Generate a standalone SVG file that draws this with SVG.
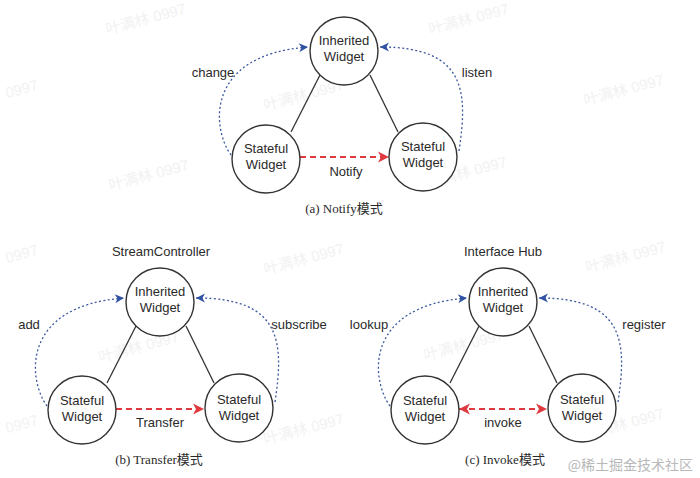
<svg xmlns="http://www.w3.org/2000/svg" width="700" height="478" viewBox="0 0 700 478">
<defs>
<style>
.node{fill:#fff;stroke:#333;stroke-width:1.4}
.edge{stroke:#333;stroke-width:1.3;fill:none}
.blue{stroke:#3a56a0;stroke-width:1.3;fill:none;stroke-dasharray:2 2.4}
.red{stroke:#de3a3f;stroke-width:2.2;fill:none;stroke-dasharray:6 4}
.t{font-family:"Liberation Sans",Arial,sans-serif;font-size:13px;fill:#2a2a2a;text-anchor:middle}
.cap{font-family:"Liberation Serif","Noto Sans CJK SC",serif;font-size:13px;fill:#2a2a2a;text-anchor:middle}
.wm{font-family:"Liberation Sans","Noto Sans CJK SC",sans-serif;font-size:15px;fill:#f2f2f2;text-anchor:middle}
</style>
<marker id="ab" markerUnits="userSpaceOnUse" markerWidth="10" markerHeight="9" refX="9" refY="4.5" orient="auto" overflow="visible">
<path d="M0,0 L9,4.5 L0,9 L2.6,4.5 z" fill="#2f52a3"/>
</marker>
<marker id="ar" markerUnits="userSpaceOnUse" markerWidth="12" markerHeight="11" refX="11" refY="5.5" orient="auto-start-reverse" overflow="visible">
<path d="M0,0 L11,5.5 L0,11 L3,5.5 z" fill="#de3a3f"/>
</marker>
</defs>
<rect width="700" height="478" fill="#fff"/>

<g id="watermarks">
<text class="wm" transform="translate(147,24) rotate(-15)">叶满林 0997</text>
<text class="wm" transform="translate(470,24) rotate(-15)">叶满林 0997</text>
<text class="wm" transform="translate(23,94) rotate(-15)">0997</text>
<text class="wm" transform="translate(305,100) rotate(-15)">叶满林 0997</text>
<text class="wm" transform="translate(625,95) rotate(-15)">叶满林 0997</text>
<text class="wm" transform="translate(150,180) rotate(-15)">叶满林 0997</text>
<text class="wm" transform="translate(468,177) rotate(-15)">叶满林 0997</text>
<text class="wm" transform="translate(23,259) rotate(-15)">0997</text>
<text class="wm" transform="translate(305,264) rotate(-15)">叶满林 0997</text>
<text class="wm" transform="translate(627,262) rotate(-15)">叶满林 0997</text>
<text class="wm" transform="translate(140,352) rotate(-15)">叶满林 0997</text>
<text class="wm" transform="translate(465,350) rotate(-15)">叶满林 0997</text>
<text class="wm" transform="translate(23,429) rotate(-15)">0997</text>
<text class="wm" transform="translate(305,434) rotate(-15)">叶满林 0997</text>
<text class="wm" transform="translate(625,429) rotate(-15)">叶满林 0997</text>
</g>

<!-- (a) Notify -->
<g id="diagram-a" transform="translate(344,51)">
<g id="a-connectors">
<line class="edge" x1="-53" y1="81" x2="-24" y2="24"/>
<line class="edge" x1="26" y1="24" x2="54" y2="81"/>
<path class="blue" d="M-113,104 C-132,78 -140,4 -36,-4" marker-end="url(#ab)"/>
<path class="blue" d="M115,100 C124,40 122,-4 36,-4" marker-end="url(#ab)"/>
<line class="red" x1="-44" y1="106" x2="45" y2="106" marker-end="url(#ar)"/>
<text class="t" x="-131" y="26">change</text>
<text class="t" x="133" y="26">listen</text>
<text class="t" x="2" y="125">Notify</text>
</g>
<g id="a-inherited"><circle class="node" cx="0" cy="0" r="34"/><text class="t" x="0" y="-6">Inherited</text><text class="t" x="0" y="10">Widget</text></g>
<g id="a-stateful-left"><circle class="node" cx="-78" cy="108" r="34"/><text class="t" x="-78" y="102">Stateful</text><text class="t" x="-78" y="118">Widget</text></g>
<g id="a-stateful-right"><circle class="node" cx="79" cy="106" r="34"/><text class="t" x="79" y="100">Stateful</text><text class="t" x="79" y="116">Widget</text></g>
<text class="cap" x="0" y="162">(a) Notify模式</text>
</g>

<!-- (b) Transfer -->
<g id="diagram-b" transform="translate(160,302)">
<text class="t" x="1" y="-46">StreamController</text>
<g id="b-connectors">
<line class="edge" x1="-53" y1="81" x2="-24" y2="24"/>
<line class="edge" x1="26" y1="24" x2="54" y2="81"/>
<path class="blue" d="M-113,104 C-132,78 -140,4 -36,-4" marker-end="url(#ab)"/>
<path class="blue" d="M115,100 C124,40 122,-4 36,-4" marker-end="url(#ab)"/>
<line class="red" x1="-44" y1="107" x2="44" y2="107" marker-end="url(#ar)"/>
<text class="t" x="-131" y="27">add</text>
<text class="t" x="139" y="27">subscribe</text>
<text class="t" x="0" y="125">Transfer</text>
</g>
<g id="b-inherited"><circle class="node" cx="0" cy="0" r="34"/><text class="t" x="0" y="-6">Inherited</text><text class="t" x="0" y="10">Widget</text></g>
<g id="b-stateful-left"><circle class="node" cx="-78" cy="108" r="34"/><text class="t" x="-78" y="103">Stateful</text><text class="t" x="-78" y="119">Widget</text></g>
<g id="b-stateful-right"><circle class="node" cx="79" cy="106" r="34"/><text class="t" x="79" y="102">Stateful</text><text class="t" x="79" y="118">Widget</text></g>
<text class="cap" x="-1" y="162">(b) Transfer模式</text>
</g>

<!-- (c) Invoke -->
<g id="diagram-c" transform="translate(503,302)">
<text class="t" x="0" y="-46">Interface Hub</text>
<g id="c-connectors">
<line class="edge" x1="-53" y1="81" x2="-24" y2="24"/>
<line class="edge" x1="26" y1="24" x2="54" y2="81"/>
<path class="blue" d="M-113,104 C-132,78 -140,4 -36,-4" marker-end="url(#ab)"/>
<path class="blue" d="M115,100 C124,40 122,-4 36,-4" marker-end="url(#ab)"/>
<line class="red" x1="-44" y1="107" x2="44" y2="107" marker-start="url(#ar)" marker-end="url(#ar)"/>
<text class="t" x="-134" y="27">lookup</text>
<text class="t" x="141" y="27">register</text>
<text class="t" x="0" y="125">invoke</text>
</g>
<g id="c-inherited"><circle class="node" cx="0" cy="0" r="34"/><text class="t" x="0" y="-6">Inherited</text><text class="t" x="0" y="10">Widget</text></g>
<g id="c-stateful-left"><circle class="node" cx="-78" cy="108" r="34"/><text class="t" x="-78" y="103">Stateful</text><text class="t" x="-78" y="119">Widget</text></g>
<g id="c-stateful-right"><circle class="node" cx="79" cy="106" r="34"/><text class="t" x="79" y="102">Stateful</text><text class="t" x="79" y="118">Widget</text></g>
<text class="cap" x="2" y="162">(c) Invoke模式</text>
</g>

<text x="693" y="470" font-family="'Noto Sans CJK SC',sans-serif" font-size="14" fill="#b8b8b8" text-anchor="end">@稀土掘金技术社区</text>
</svg>
